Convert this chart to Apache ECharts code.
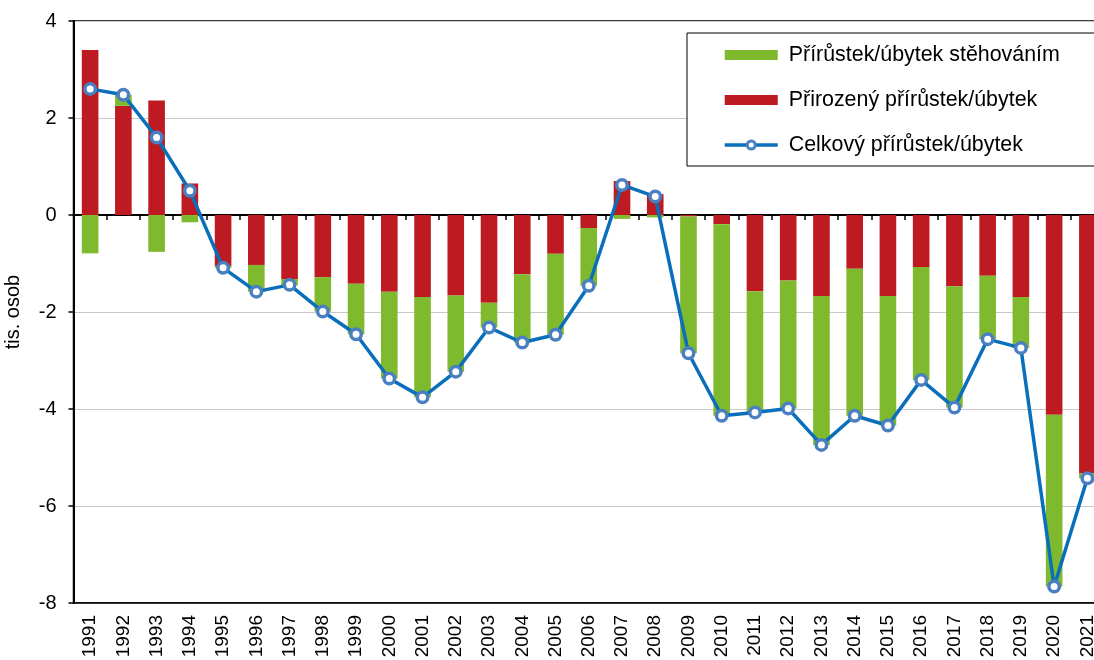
<!DOCTYPE html>
<html>
<head>
<meta charset="utf-8">
<script src="https://cdn.jsdelivr.net/npm/echarts@6/dist/echarts.min.js"></script>
<style>
html,body{margin:0;padding:0;background:#fff;}
#chart{width:1094px;height:660px;}
</style>
</head>
<body>
<div id="chart"></div>
<script>
const years = ['1991','1992','1993','1994','1995','1996','1997','1998','1999','2000','2001','2002','2003','2004','2005','2006','2007','2008','2009','2010','2011','2012','2013','2014','2015','2016','2017','2018','2019','2020','2021'];
const natural = [3.40,2.25,2.36,0.65,-1.05,-1.03,-1.32,-1.28,-1.42,-1.58,-1.69,-1.66,-1.81,-1.22,-0.80,-0.27,0.70,0.43,-0.03,-0.19,-1.57,-1.35,-1.67,-1.11,-1.67,-1.07,-1.47,-1.25,-1.69,-4.12,-5.33];
const migration = [-0.79,0.23,-0.76,-0.15,-0.04,-0.55,-0.13,-0.71,-1.04,-1.79,-2.07,-1.57,-0.51,-1.41,-1.67,-1.19,-0.08,-0.05,-2.82,-3.95,-2.50,-2.64,-3.07,-3.03,-2.67,-2.33,-2.50,-1.31,-1.05,-3.54,-0.10];
const total = [2.60,2.48,1.60,0.50,-1.09,-1.58,-1.44,-1.99,-2.46,-3.37,-3.76,-3.23,-2.32,-2.63,-2.47,-1.46,0.62,0.38,-2.85,-4.14,-4.07,-3.99,-4.74,-4.14,-4.34,-3.40,-3.97,-2.56,-2.74,-7.66,-5.43];
const yTicks = {min:-8, max:4, interval:2};
const names = ['Přírůstek/úbytek stěhováním','Přirozený přírůstek/úbytek','Celkový přírůstek/úbytek'];

const FONT = '"Liberation Sans", Arial, sans-serif';
const chart = echarts.init(document.getElementById('chart'));
chart.setOption({
  animation: false,
  textStyle: {fontFamily: FONT},
  grid: {left: 73.5, top: 21, bottom: 57, right: -10, outerBoundsMode: 'none', containLabel: false, show: true, borderColor: '#000', borderWidth: 1.5, backgroundColor: 'transparent'},
  legend: {
    orient: 'vertical',
    left: 687, top: 33,
    borderColor: '#000', borderWidth: 1,
    backgroundColor: '#fff',
    padding: [10, 35, 9, 36],
    itemWidth: 53, itemHeight: 10,
    itemGap: 21,
    textStyle: {fontSize: 21.4, color: '#000', fontFamily: FONT, lineHeight: 24, padding: [0, 0, 0, 6]},
    data: [
      {name: names[0], icon: 'rect'},
      {name: names[1], icon: 'rect'},
      {name: names[2], lineStyle: {width: 3.5, color: '#0a6fba'}, itemStyle: {color: '#fff', borderColor: '#4a7fc1', borderWidth: 3}}
    ]
  },
  xAxis: [
    {
      type: 'category', data: years, position: 'bottom',
      axisLine: {show: true, onZero: false, lineStyle: {color: '#000', width: 1.5}},
      axisTick: {show: false},
      axisLabel: {rotate: 90, fontSize: 19, color: '#000', margin: 12, interval: 0, fontFamily: FONT}
    },
    {
      type: 'category', data: years, position: 'top',
      axisLine: {show: true, onZero: true, lineStyle: {color: '#000', width: 2.2}},
      axisTick: {show: true, inside: true, length: 5, alignWithLabel: false, interval: 0, lineStyle: {color: '#000', width: 1.5}},
      axisLabel: {show: false},
      splitLine: {show: false}
    }
  ],
  yAxis: {
    type: 'value', min: yTicks.min, max: yTicks.max, interval: yTicks.interval,
    name: 'tis. osob', nameLocation: 'middle', nameGap: 50,
    nameTextStyle: {fontSize: 20, color: '#000', fontFamily: FONT},
    axisLine: {show: true, lineStyle: {color: '#000', width: 2}},
    axisTick: {show: true, length: 5, lineStyle: {color: '#000', width: 1.5}},
    axisLabel: {fontSize: 20, color: '#000', margin: 17, fontFamily: FONT},
    splitLine: {show: true, lineStyle: {color: '#c8c8c8', width: 1.2}}
  },
  series: [
    {
      name: names[1], type: 'bar', stack: 'a', data: natural,
      barWidth: '50%', itemStyle: {color: '#be1a22'}
    },
    {
      name: names[0], type: 'bar', stack: 'a', data: migration,
      barWidth: '50%', itemStyle: {color: '#7fba2e'}
    },
    {
      name: names[2], type: 'line', data: total,
      lineStyle: {color: '#0a6fba', width: 3.5},
      itemStyle: {color: '#fff', borderColor: '#4a7fc1', borderWidth: 3.5},
      symbol: 'circle', symbolSize: 10.5, showSymbol: true, z: 5
    }
  ]
});
</script>
</body>
</html>
